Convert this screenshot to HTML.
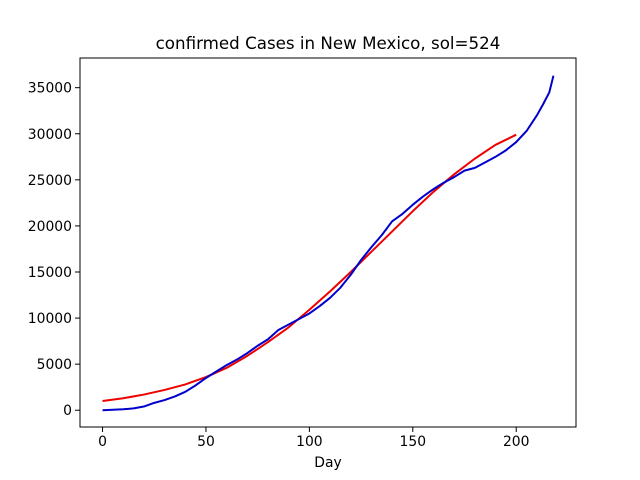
<!DOCTYPE html>
<html><head><meta charset="utf-8"><style>body{margin:0;background:#fff}svg{display:block;font-family:"DejaVu Sans","Liberation Sans",sans-serif}</style></head>
<body>
<svg id="c" width="640" height="480"></svg>
<script>
const redDays=[0,10,20,30,40,50,60,70,80,90,100,110,120,130,140,150,160,170,180,190,200];
const redValues=[1000,1300,1700,2200,2800,3600,4600,5900,7400,9000,10900,12900,15000,17200,19400,21600,23700,25600,27300,28800,29900];
const blueDays=[0,10,15,20,25,30,35,40,45,50,55,60,65,70,75,80,85,90,95,100,105,110,115,120,125,130,135,140,145,150,155,160,165,170,175,180,185,190,195,200,205,210,213,216,218];
const blueValues=[0,100,200,400,800,1100,1500,2000,2700,3500,4200,4900,5500,6200,7000,7700,8700,9300,9900,10500,11300,12200,13300,14700,16300,17700,19000,20500,21300,22300,23200,24000,24700,25300,26000,26300,26900,27500,28200,29100,30300,32000,33200,34500,36300];
const xTicks=[0,50,100,150,200];
const yTicks=[0,5000,10000,15000,20000,25000,30000,35000];
const L=80,R=576,T=58,B=427,xmin=-10.9,xmax=228.9,ymin=-1820,ymax=38220;
const X=v=>L+(v-xmin)/(xmax-xmin)*(R-L);
const Y=v=>B-(v-ymin)/(ymax-ymin)*(B-T);
const s=document.getElementById('c');const NS='http://www.w3.org/2000/svg';
function mk(t,a,p){const e=document.createElementNS(NS,t);for(const k in a)e.setAttribute(k,a[k]);(p||s).appendChild(e);return e;}
function line(xs,ys,col,name){const e=mk('polyline',{points:xs.map((d,i)=>X(d)+','+Y(ys[i])).join(' '),fill:'none',stroke:col,'stroke-width':2,'stroke-linejoin':'round'});

}
line(redDays,redValues,'#ee0000','fit-curve');
line(blueDays,blueValues,'#0000cc','confirmed-cases-line');
const fr=mk('rect',{x:L,y:T,width:R-L,height:B-T,fill:'none',stroke:'#000','stroke-width':1});


xTicks.forEach(v=>{const x=X(v);mk('line',{x1:x,x2:x,y1:B,y2:B+5,stroke:'#000','stroke-width':1});
const t=mk('text',{x:x,y:B+19,'text-anchor':'middle','font-size':13.9});t.textContent=v;

});
yTicks.forEach(v=>{const y=Y(v);mk('line',{x1:L,x2:L-5,y1:y,y2:y,stroke:'#000','stroke-width':1});
const t=mk('text',{x:L-8,y:y+5,'text-anchor':'end','font-size':13.9});t.textContent=v;

});
const xl=mk('text',{x:(L+R)/2,y:467,'text-anchor':'middle','font-size':13.9});xl.textContent='Day';


const ti=mk('text',{x:(L+R)/2,y:49,'text-anchor':'middle','font-size':16.7});ti.textContent='confirmed Cases in New Mexico, sol=524';


</script>
</body></html>
